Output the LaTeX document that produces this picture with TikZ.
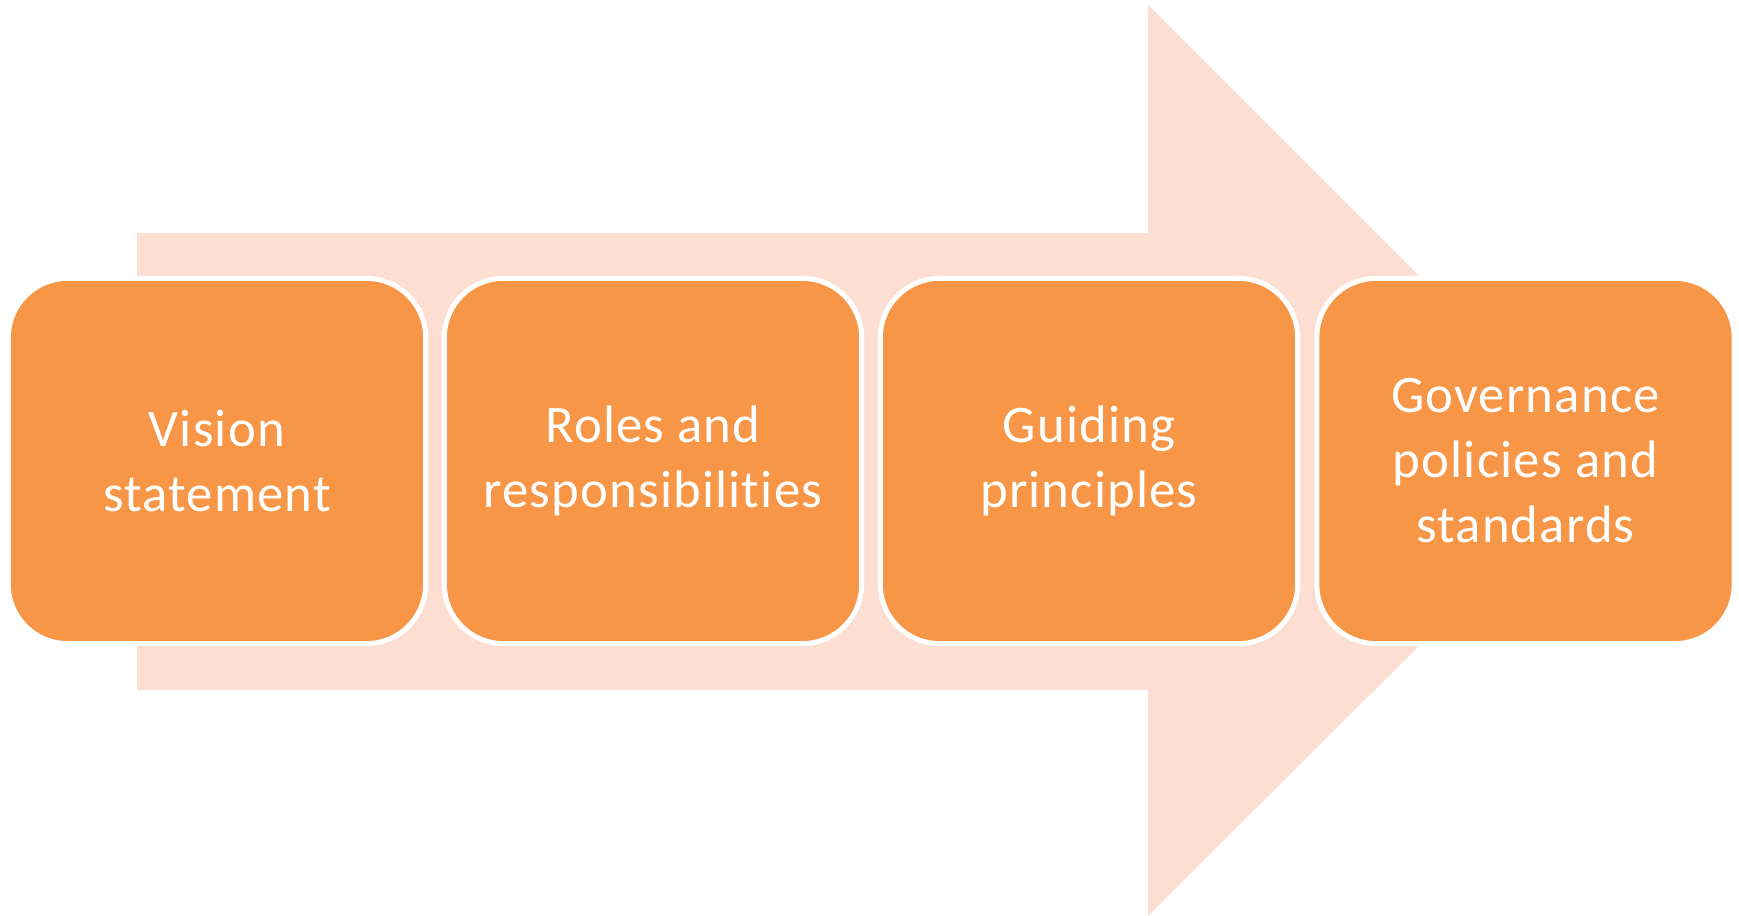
\documentclass[tikz,border=0pt]{standalone}
\usepackage{fontspec}
\setmainfont[Ligatures=NoCommon, LetterSpace=2.2]{Carlito}
\usepackage{xcolor}
\usetikzlibrary{positioning}
\definecolor{steporange}{HTML}{F79646}
\definecolor{arrowpeach}{HTML}{FCDED2}

\begin{document}
\begin{tikzpicture}[
    x=0.01cm, y=-0.01cm,
    stepbox/.style={rectangle, rounded corners=0.59cm, fill=steporange, draw=white,
        line width=0.5mm, minimum width=4.17cm, minimum height=3.65cm,
        text=white, align=center, font=\fontsize{15}{18.5}\selectfont},
    bigarrow/.style={fill=arrowpeach, draw=none}
]
    \useasboundingbox (0,0) rectangle (1739,916);

    % Arrow
    \fill[bigarrow] (137,233) -- (1148,233) -- (1148,5) -- (1604,461)
        -- (1148,916) -- (1148,690) -- (137,690) -- cycle;

    % Steps
    \node[stepbox] (vision) at (217,461) {Vision\\statement};
    \node[stepbox] (roles) at (653,461) {Roles and\\responsibilities};
    \node[stepbox] (guiding) at (1089,461) {Guiding\\principles};
    \node[stepbox] (governance) at (1525.5,461) {Governance\\policies and\\standards};
\end{tikzpicture}
\end{document}
